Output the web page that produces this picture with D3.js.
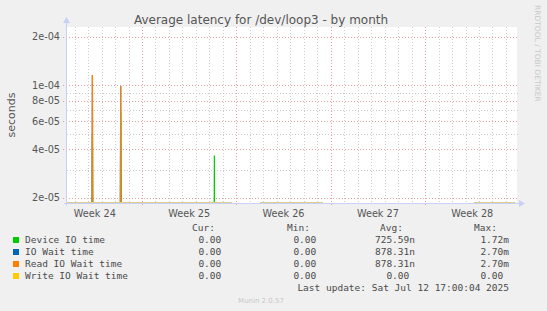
<!DOCTYPE html>
<html>
<head>
<meta charset="utf-8">
<script src="https://cdn.jsdelivr.net/npm/d3@7"></script>
<style>
  html, body { margin: 0; padding: 0; background: #f0f0f0; }
  svg { display: block; }
  text { white-space: pre; }
</style>
</head>
<body>
<div id="chart"></div>
<script>
// ---- data ----
const title = 'Average latency for /dev/loop3 - by month'
const yLabel = 'seconds'
const timeStart = Date.UTC(2025, 5, 10, 10, 26)
const timeEnd = Date.UTC(2025, 6, 13, 19, 40)

const yMajorTicks = [2e-5, 4e-5, 6e-5, 8e-5, 1e-4, 2e-4]
const yMinorTicks = [3e-5, 5e-5, 7e-5, 9e-5]
const yTickLabels = ['2e-05', '4e-05', '6e-05', '8e-05', '1e-04', '2e-04']

// spans where the series are known (value 0)
const zeroSpans = [
  [Date.UTC(2025, 5, 10, 10, 26), Date.UTC(2025, 5, 22, 16, 20)],
  [Date.UTC(2025, 5, 24, 18, 10), Date.UTC(2025, 5, 29, 10, 15)],
  [Date.UTC(2025, 6, 10, 15, 0), Date.UTC(2025, 6, 13, 17, 0)]
]

// spikes: [time, seconds]
const deviceSpikes = [
  [Date.UTC(2025, 5, 12, 7, 40), 5.0e-5],
  [Date.UTC(2025, 5, 14, 10, 0), 6.8e-5],
  [Date.UTC(2025, 5, 21, 8, 50), 3.67e-5]
]
const ioWaitSpikes = [
  [Date.UTC(2025, 5, 12, 7, 40), 1.16e-4],
  [Date.UTC(2025, 5, 14, 10, 0), 0.99e-4]
]
const readWaitSpikes = [
  [Date.UTC(2025, 5, 12, 7, 40), 1.16e-4],
  [Date.UTC(2025, 5, 14, 10, 0), 0.99e-4]
]
const writeWaitSpikes = []

const seriesNames = ['Device IO time', 'IO Wait time', 'Read IO Wait time', 'Write IO Wait time']
const seriesColors = ['#00cc00', '#0066b3', '#ff8000', '#ffcc00']
const seriesSpikes = [deviceSpikes, ioWaitSpikes, readWaitSpikes, writeWaitSpikes]
const curValues = ['0.00 ', '0.00 ', '0.00 ', '0.00 ']
const minValues = ['0.00 ', '0.00 ', '0.00 ', '0.00 ']
const avgValues = ['725.59n', '878.31n', '878.31n', '0.00 ']
const maxValues = ['1.72m', '2.70m', '2.70m', '0.00 ']
const lastUpdate = 'Last update: Sat Jul 12 17:00:04 2025'

// ---- drawing ----
const width = 547, height = 311
const pLeft = 67, pRight = 517, pTop = 27, pBottom = 203

const svg = d3.select('#chart').append('svg')
  .attr('width', width).attr('height', height)

svg.append('rect').attr('width', width).attr('height', height).attr('fill', '#f0f0f0')
svg.append('rect').attr('x', pLeft).attr('y', pTop)
  .attr('width', pRight - pLeft).attr('height', pBottom - pTop).attr('fill', '#ffffff')

const x = d3.scaleUtc().domain([timeStart, timeEnd]).range([pLeft, pRight])
const y = d3.scaleLog().domain([1.86e-5, 2.3e-4]).range([pBottom, pTop])

const grid = svg.append('g').attr('shape-rendering', 'crispEdges')

// minor vertical grid: days
grid.selectAll('.vday')
  .data(d3.utcDay.range(new Date(timeStart), new Date(timeEnd)))
  .enter().append('line')
  .attr('x1', d => Math.round(x(d)) + 0.5).attr('x2', d => Math.round(x(d)) + 0.5)
  .attr('y1', pTop).attr('y2', pBottom)
  .attr('stroke', '#cccccc').attr('stroke-dasharray', '1,2')

// minor horizontal grid
grid.selectAll('.hmin')
  .data(yMinorTicks)
  .enter().append('line')
  .attr('x1', pLeft).attr('x2', pRight + 2)
  .attr('y1', d => Math.round(y(d)) + 0.5).attr('y2', d => Math.round(y(d)) + 0.5)
  .attr('stroke', '#cccccc').attr('stroke-dasharray', '1,2')

// major vertical grid: weeks
const mondays = d3.utcMonday.range(new Date(timeStart), new Date(timeEnd))
grid.selectAll('.vweek')
  .data(mondays)
  .enter().append('line')
  .attr('x1', d => Math.round(x(d)) + 0.5).attr('x2', d => Math.round(x(d)) + 0.5)
  .attr('y1', pTop).attr('y2', pBottom + 3)
  .attr('stroke', '#e4a0a0').attr('stroke-dasharray', '1,2')

// major horizontal grid
grid.selectAll('.hmaj')
  .data(yMajorTicks)
  .enter().append('line')
  .attr('x1', pLeft - 4).attr('x2', pRight + 2)
  .attr('y1', d => Math.round(y(d)) + 0.5).attr('y2', d => Math.round(y(d)) + 0.5)
  .attr('stroke', '#e4a0a0').attr('stroke-dasharray', '1,2')

// y tick labels
svg.selectAll('.ylab')
  .data(yMajorTicks)
  .enter().append('text')
  .attr('x', pLeft - 7).attr('y', d => y(d) + 3.5)
  .attr('text-anchor', 'end')
  .attr('font-family', 'DejaVu Sans').attr('font-size', 9.7)
  .attr('fill', '#555')
  .text((d, i) => yTickLabels[i])

// x week labels, centered mid-week
const weekStarts = d3.utcMonday.range(d3.utcMonday.floor(new Date(timeStart)), new Date(timeEnd))
  .filter(d => +d + 3.5 * 864e5 <= timeEnd)
svg.selectAll('.xlab')
  .data(weekStarts)
  .enter().append('text')
  .attr('x', d => x(+d + 3.5 * 864e5)).attr('y', 217)
  .attr('text-anchor', 'middle')
  .attr('font-family', 'DejaVu Sans').attr('font-size', 9.7)
  .attr('fill', '#555')
  .text(d => 'Week ' + d3.utcFormat('%V')(d))

// data
svg.append('clipPath').attr('id', 'plotclip')
  .append('rect').attr('x', pLeft).attr('y', pTop - 5)
  .attr('width', pRight - pLeft).attr('height', pBottom - pTop + 5)
const plot = svg.append('g').attr('clip-path', 'url(#plotclip)')

const step = 2 * 3600 * 1000
const line = d3.line()
  .x(d => x(d[0]))
  .y(d => d[1] > 0 ? y(d[1]) : pBottom + 400)

seriesSpikes.forEach((spikes, i) => {
  spikes.forEach(s => {
    plot.append('path')
      .datum([[s[0] - step, 0], s, [s[0] + step, 0]])
      .attr('d', line)
      .attr('fill', 'none')
      .attr('stroke', seriesColors[i])
      .attr('stroke-width', 1.2)
  })
})

// zero baseline where data is known
plot.selectAll('.zero')
  .data(zeroSpans)
  .enter().append('line')
  .attr('x1', d => x(d[0])).attr('x2', d => x(d[1]))
  .attr('y1', pBottom - 0.5).attr('y2', pBottom - 0.5)
  .attr('stroke', '#dccf8e').attr('stroke-width', 1)

// axes
const axisColor = '#c8d0f8'
svg.append('line').attr('x1', pLeft - 0.5).attr('x2', pLeft - 0.5)
  .attr('y1', pBottom + 3).attr('y2', pTop - 5)
  .attr('stroke', axisColor)
svg.append('path').attr('d', `M${pLeft - 4},${pTop - 4}L${pLeft - 0.5},${pTop - 10}L${pLeft + 3},${pTop - 4}Z`)
  .attr('fill', axisColor)
svg.append('line').attr('x1', pLeft - 3).attr('x2', pRight + 3)
  .attr('y1', pBottom + 0.5).attr('y2', pBottom + 0.5)
  .attr('stroke', axisColor)
svg.append('path').attr('d', `M${pRight + 2},${pBottom - 3}L${pRight + 8},${pBottom + 0.5}L${pRight + 2},${pBottom + 4}Z`)
  .attr('fill', axisColor)

// title and labels
svg.append('text').attr('x', 261).attr('y', 24)
  .attr('text-anchor', 'middle')
  .attr('font-family', 'DejaVu Sans').attr('font-size', 12)
  .attr('fill', '#555')
  .text(title)

svg.append('text')
  .attr('transform', 'translate(15,115) rotate(-90)')
  .attr('text-anchor', 'middle')
  .attr('font-family', 'DejaVu Sans').attr('font-size', 11)
  .attr('fill', '#555')
  .text(yLabel)

svg.append('text')
  .attr('transform', 'translate(535,5) rotate(90)')
  .attr('font-family', 'DejaVu Sans').attr('font-size', 7.5)
  .attr('fill', '#c8c8c8')
  .text('RRDTOOL / TOBI OETIKER')

// legend
const mono = 'DejaVu Sans Mono'
const legendFont = 9.5
const legendColor = '#4a4a4a'
const colEnds = [227, 322, 415, 509]
const headers = ['Cur:', 'Min:', 'Avg:', 'Max:']
headers.forEach((h, j) => {
  svg.append('text').attr('x', colEnds[j] - 12).attr('y', 231)
    .attr('text-anchor', 'end')
    .attr('font-family', mono).attr('font-size', legendFont)
    .attr('fill', legendColor).text(h)
})

const legendRows = svg.selectAll('.leg')
  .data(seriesNames)
  .enter().append('g')
  .attr('transform', (d, i) => `translate(0,${243 + i * 12})`)

legendRows.append('rect')
  .attr('x', 13).attr('y', -6).attr('width', 6).attr('height', 6)
  .attr('fill', (d, i) => seriesColors[i])
legendRows.append('text')
  .attr('x', 25).attr('y', 0)
  .attr('font-family', mono).attr('font-size', legendFont)
  .attr('fill', legendColor)
  .text(d => d)

const cols = [curValues, minValues, avgValues, maxValues]
cols.forEach((vals, j) => {
  legendRows.append('text')
    .attr('x', colEnds[j]).attr('y', 0)
    .attr('text-anchor', 'end')
    .attr('font-family', mono).attr('font-size', legendFont)
    .attr('fill', legendColor)
    .text((d, i) => vals[i])
})

svg.append('text').attr('x', 509).attr('y', 291)
  .attr('text-anchor', 'end')
  .attr('font-family', mono).attr('font-size', legendFont)
  .attr('fill', legendColor)
  .text(lastUpdate)

svg.append('text').attr('x', 261).attr('y', 303)
  .attr('text-anchor', 'middle')
  .attr('font-family', 'DejaVu Sans').attr('font-size', 7)
  .attr('fill', '#c8c8c8')
  .text('Munin 2.0.57')
</script>
</body>
</html>
